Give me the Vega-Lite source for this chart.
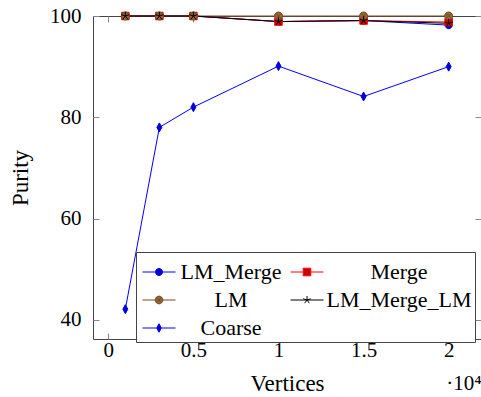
{
  "$schema": "https://vega.github.io/schema/vega-lite/v6.json",
  "width": 388,
  "height": 323,
  "autosize": {"type": "none"},
  "padding": {"left": 93, "top": 16, "right": 0, "bottom": 58},
  "background": "white",
  "config": {
    "view": {"stroke": "#444", "strokeWidth": 1},
    "axis": {
      "labelFont": "Liberation Serif", "labelFontSize": 21, "labelColor": "#000",
      "titleFont": "Liberation Serif", "titleFontSize": 23, "titleFontWeight": "normal", "titleColor": "#000",
      "tickColor": "#888", "tickSize": -6, "tickWidth": 1, "domain": false, "grid": false
    }
  },
  "data": {"values": [
    {"series": "LM_Merge", "vertices": 1000, "purity": 100},
    {"series": "LM_Merge", "vertices": 3000, "purity": 100},
    {"series": "LM_Merge", "vertices": 5000, "purity": 100},
    {"series": "LM_Merge", "vertices": 10000, "purity": 98.9},
    {"series": "LM_Merge", "vertices": 15000, "purity": 99.1},
    {"series": "LM_Merge", "vertices": 20000, "purity": 98.2},
    {"series": "Merge", "vertices": 1000, "purity": 100},
    {"series": "Merge", "vertices": 3000, "purity": 100},
    {"series": "Merge", "vertices": 5000, "purity": 100},
    {"series": "Merge", "vertices": 10000, "purity": 98.9},
    {"series": "Merge", "vertices": 15000, "purity": 99.1},
    {"series": "Merge", "vertices": 20000, "purity": 98.8},
    {"series": "LM", "vertices": 1000, "purity": 100},
    {"series": "LM", "vertices": 3000, "purity": 100},
    {"series": "LM", "vertices": 5000, "purity": 100},
    {"series": "LM", "vertices": 10000, "purity": 100},
    {"series": "LM", "vertices": 15000, "purity": 100},
    {"series": "LM", "vertices": 20000, "purity": 100},
    {"series": "LM_Merge_LM", "vertices": 1000, "purity": 100},
    {"series": "LM_Merge_LM", "vertices": 3000, "purity": 100},
    {"series": "LM_Merge_LM", "vertices": 5000, "purity": 100},
    {"series": "LM_Merge_LM", "vertices": 10000, "purity": 98.9},
    {"series": "LM_Merge_LM", "vertices": 15000, "purity": 99.1},
    {"series": "LM_Merge_LM", "vertices": 20000, "purity": 98.55},
    {"series": "Coarse", "vertices": 1000, "purity": 42.1},
    {"series": "Coarse", "vertices": 3000, "purity": 78},
    {"series": "Coarse", "vertices": 5000, "purity": 82},
    {"series": "Coarse", "vertices": 10000, "purity": 90.1},
    {"series": "Coarse", "vertices": 15000, "purity": 84.1},
    {"series": "Coarse", "vertices": 20000, "purity": 90}
  ]},
  "layer": [
    {
      "mark": {"type": "line", "strokeWidth": 1},
      "encoding": {
        "x": {"field": "vertices", "type": "quantitative",
          "scale": {"domain": [-900, 21900], "nice": false, "zero": false},
          "axis": {"orient": "bottom", "values": [0, 5000, 10000, 15000, 20000], "labelExpr": "datum.value / 10000", "labelPadding": 6, "title": "Vertices", "titlePadding": 12}},
        "y": {"field": "purity", "type": "quantitative",
          "scale": {"domain": [36.2, 100], "nice": false, "zero": false},
          "axis": {"orient": "left", "values": [40, 60, 80, 100], "labelPadding": 18, "title": "Purity", "titlePadding": 17}},
        "color": {"field": "series", "type": "nominal",
          "scale": {"domain": ["LM_Merge", "Merge", "LM", "LM_Merge_LM", "Coarse"], "range": ["#0000ff", "#ff0000", "#734d26", "#000000", "#0000ff"]},
          "legend": {
            "orient": "none", "legendX": 43, "legendY": 236, "columns": 2, "direction": "horizontal", "title": null,
            "fillColor": "white", "strokeColor": "#444", "padding": 3, "rowPadding": -2.5, "columnPadding": 5,
            "symbolSize": 1089, "symbolStrokeWidth": 1, "symbolOffset": 3,
            "labelFont": "Liberation Serif", "labelFontSize": 22, "labelColor": "#000", "labelOffset": 5, "labelAlign": "center", "labelLimit": 250,
            "encode": {
              "symbols": {"update": {
                "shape": {"signal": "datum.value === 'LM_Merge' ? 'M-1,0L-0.21,0M0.21,0L1,0M0.21,0A0.21,0.21,0,1,1,-0.21,0A0.21,0.21,0,1,1,0.21,0Z' : datum.value === 'Merge' ? 'M-1,0L-0.23,0M0.23,0L1,0M-0.23,-0.23L0.23,-0.23L0.23,0.23L-0.23,0.23Z' : datum.value === 'LM' ? 'M-1,0L-0.235,0M0.235,0L1,0M0.235,0A0.235,0.235,0,1,1,-0.235,0A0.235,0.235,0,1,1,0.235,0ZM-0.166,-0.166L0.166,0.166M-0.166,0.166L0.166,-0.166' : datum.value === 'LM_Merge_LM' ? 'M-1,0L1,0M0,0L0,-0.24M0,0L0.228,-0.074M0,0L0.141,0.194M0,0L-0.141,0.194M0,0L-0.228,-0.074' : 'M-1,0L-0.14,0M0.14,0L1,0M0,-0.26L0.14,0L0,0.26L-0.14,0Z'"},
                "fill": {"signal": "datum.value === 'LM_Merge' ? '#0000cc' : datum.value === 'Merge' ? '#cc0000' : datum.value === 'LM' ? '#996633' : datum.value === 'LM_Merge_LM' ? 'transparent' : '#0000cc'"},
                "opacity": {"value": 1}
              }},
              "labels": {"update": {"dx": {"signal": "datum.value === 'Merge' || datum.value === 'LM_Merge_LM' ? 70 : 50"}}}
            }
          }}
      }
    },
    {
      "mark": {"type": "point", "size": 100, "strokeWidth": 1, "opacity": 1},
      "encoding": {
        "x": {"field": "vertices", "type": "quantitative",
          "axis": {"orient": "top", "values": [0, 5000, 10000, 15000, 20000], "labels": false, "title": "·10⁴", "titleX": 388, "titleY": 373, "titleAlign": "right", "titleBaseline": "alphabetic", "titleFontSize": 21, "titleAngle": 0}},
        "y": {"field": "purity", "type": "quantitative",
          "axis": {"orient": "right", "values": [40, 60, 80, 100], "labels": false, "title": null}},
        "stroke": {"field": "series", "type": "nominal",
          "scale": {"domain": ["Coarse", "LM_Merge", "Merge", "LM", "LM_Merge_LM"], "range": ["#0000ff", "#0000ff", "#ff0000", "#734d26", "#000000"]},
          "legend": null},
        "fill": {"field": "series", "type": "nominal",
          "scale": {"domain": ["Coarse", "LM_Merge", "Merge", "LM", "LM_Merge_LM"], "range": ["#0000cc", "#0000cc", "#cc0000", "#996633", "transparent"]},
          "legend": null},
        "shape": {"field": "series", "type": "nominal",
          "scale": {"domain": ["Coarse", "LM_Merge", "Merge", "LM", "LM_Merge_LM"], "range": [
            "M0,-0.9L0.5,0L0,0.9L-0.5,0Z",
            "M0.72,0A0.72,0.72,0,1,1,-0.72,0A0.72,0.72,0,1,1,0.72,0Z",
            "M-0.75,-0.75L0.75,-0.75L0.75,0.75L-0.75,0.75Z",
            "M0.8,0A0.8,0.8,0,1,1,-0.8,0A0.8,0.8,0,1,1,0.8,0ZM-0.566,-0.566L0.566,0.566M-0.566,0.566L0.566,-0.566",
            "M0,0L0,-0.85M0,0L0.808,-0.263M0,0L0.5,0.688M0,0L-0.5,0.688M0,0L-0.808,-0.263"]},
          "legend": null}
      }
    }
  ],
  "resolve": {"axis": {"x": "independent", "y": "independent"}}
}
